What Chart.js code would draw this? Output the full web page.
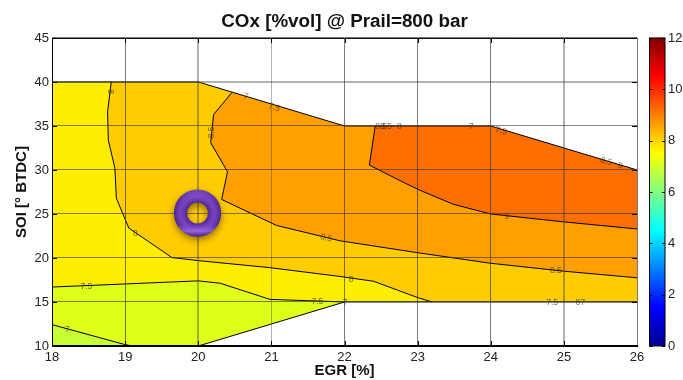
<!DOCTYPE html>
<html>
<head>
<meta charset="utf-8">
<style>
  html, body { margin: 0; padding: 0; background: #fff; }
  canvas { display: block; }
</style>
<script src="https://cdn.jsdelivr.net/npm/chart.js@4"></script>
</head>
<body>
<canvas id="chart" width="683" height="380"></canvas>
<script>
// axis ticks
const xTicks = [18, 19, 20, 21, 22, 23, 24, 25, 26];
const yTicks = [10, 15, 20, 25, 30, 35, 40, 45];
const barTicks = [0, 2, 4, 6, 8, 10, 12];

// contour lines, as [EGR, SOI]
const contour7 = [[18, 12.43], [18.98, 10.2], [19.1, 10]];
const contour75 = [[18, 16.7], [19, 17.05], [20, 17.4], [20.3, 17.13], [20.98, 15.3], [22, 15]];
const contour8 = [[18.81, 40], [18.76, 36.6], [18.77, 33.4], [18.86, 30.2], [18.88, 26.8], [19.05, 23.4], [19.64, 20.05], [20, 19.7], [20.98, 18.9], [21.94, 17.9], [22.4, 17.35], [23, 15.5], [23.2, 15]];
const contour85 = [[20.46, 38.8], [20.21, 36.3], [20.17, 33.1], [20.4, 29.8], [20.32, 26.65], [21.07, 23.7], [21.94, 21.95], [23, 20.6], [24, 19.4], [25, 18.5], [26, 17.75]];
const contour9 = [[22.42, 35], [22.34, 30.55], [22.83, 28.5], [23.03, 27.7], [23.49, 26.1], [24, 25], [25, 24.1], [26, 23.3]];

// outline of the measured area
const outline = [[18, 40], [20, 40], [22, 35], [24, 35], [26, 30], [26, 15], [22, 15], [20, 10], [18, 10]];
const topEdge = [[18, 40], [20, 40], [22, 35], [24, 35], [26, 30]];
const lowEdge = [[26, 15], [22, 15], [20, 10]];

// inline contour labels: text, EGR, SOI, rotation in degrees
const labelText = ["8", "8.5", "7", "7.5", "8.5", "8.5", "8", "7", "7.5", "8.5", "9", "8", "7.5", "7", "8.5", "7.5", "9", "8.5", "8", "7", "7.5", "8", "7"];
const labelX = [18.8, 20.18, 20.65, 21.04, 22.5, 22.57, 22.75, 23.73, 24.14, 25.58, 25.77, 19.14, 18.47, 18.21, 21.75, 21.63, 24.22, 24.89, 22.09, 22.01, 24.84, 25.19, 25.26];
const labelY = [38.9, 34.27, 38.37, 37.12, 34.95, 34.95, 34.95, 34.95, 34.45, 30.97, 30.47, 22.74, 16.75, 11.9, 22.28, 15.08, 24.75, 18.57, 17.58, 14.93, 14.93, 14.93, 14.93];
const labelRot = [90, -90, 15, 15, 0, 0, 0, 0, 15, 15, 15, 0, 0, 0, 15, 0, 0, 0, 0, 0, 0, 0, 0];

// colorbar
const jetValues = [0, 1.5, 4.5, 7.5, 10.5, 12];
const jetColors = ["#00008f", "#0000ff", "#00ffff", "#ffff00", "#ff0000", "#800000"];

const ringPos = [19.99, 25.1];

const toPoints = (list) => list.map((p) => ({ x: p[0], y: p[1] }));

function area(points, color) {
  return {
    data: toPoints(points),
    areaColor: color,
    showLine: false,
    pointRadius: 0,
    pointHoverRadius: 0,
  };
}

function line(points) {
  return {
    data: toPoints(points),
    showLine: true,
    borderColor: "#000",
    borderWidth: 1,
    pointRadius: 0,
    pointHoverRadius: 0,
    fill: false,
  };
}

const datasets = [
  area(outline, "#ffee00"),
  area(contour8.concat([[26, 15], [26, 30], [24, 35], [22, 35], [20, 40]]), "#ffcc00"),
  area(contour85.concat([[26, 30], [24, 35], [22, 35]]), "#ff9f00"),
  area(contour9.concat([[26, 30], [24, 35]]), "#ff6f00"),
  area(contour75.concat([[20, 10], [18, 10]]), "#dfff1a"),
  area(contour7.concat([[18, 10]]), "#c8ff33"),
  line(contour7),
  line(contour75),
  line(contour8),
  line(contour85),
  line(contour9),
  line(topEdge),
  line(lowEdge),
  { data: toPoints([ringPos]), isRing: true, pointRadius: 0, pointHoverRadius: 0, showLine: false },
];

// fills the closed contour bands, in order, under the lines
const bandFill = {
  id: "bandFill",
  beforeDatasetsDraw(chart) {
    const ctx = chart.ctx;
    const a = chart.chartArea;
    ctx.save();
    ctx.beginPath();
    ctx.rect(a.left, a.top, a.right - a.left, a.bottom - a.top);
    ctx.clip();
    chart.data.datasets.forEach((ds, i) => {
      if (!ds.areaColor) return;
      const pts = chart.getDatasetMeta(i).data;
      ctx.beginPath();
      pts.forEach((p, n) => (n ? ctx.lineTo(p.x, p.y) : ctx.moveTo(p.x, p.y)));
      ctx.closePath();
      ctx.fillStyle = ds.areaColor;
      ctx.fill();
    });
    ctx.restore();
  },
};

function drawBox(chart) {
  const ctx = chart.ctx;
  const a = chart.chartArea;
  ctx.strokeStyle = "#000";
  ctx.lineWidth = 1;
  ctx.beginPath();
  // inward ticks on the top and right sides
  chart.scales.x.ticks.forEach((t) => {
    const px = Math.round(chart.scales.x.getPixelForValue(t.value)) + 0.5;
    ctx.moveTo(px, a.top);
    ctx.lineTo(px, a.top + 5);
    ctx.moveTo(px, a.bottom);
    ctx.lineTo(px, a.bottom - 5);
  });
  chart.scales.y.ticks.forEach((t) => {
    const py = Math.round(chart.scales.y.getPixelForValue(t.value)) + 0.5;
    ctx.moveTo(a.left, py);
    ctx.lineTo(a.left + 5, py);
    ctx.moveTo(a.right, py);
    ctx.lineTo(a.right - 5, py);
  });
  ctx.moveTo(a.left + 0.5, a.bottom);
  ctx.lineTo(a.left + 0.5, a.top + 0.5);
  ctx.lineTo(a.right, a.top + 0.5);
  ctx.stroke();
  ctx.strokeStyle = "#777";
  ctx.beginPath();
  ctx.moveTo(a.right + 0.5, a.top);
  ctx.lineTo(a.right + 0.5, a.bottom);
  ctx.stroke();
  ctx.strokeStyle = "#000";
  ctx.lineWidth = 2;
  ctx.beginPath();
  ctx.moveTo(a.left, a.bottom);
  ctx.lineTo(a.right + 1, a.bottom);
  ctx.stroke();
}

function drawLabels(chart) {
  const ctx = chart.ctx;
  const sx = chart.scales.x;
  const sy = chart.scales.y;
  ctx.font = "8.5px 'Liberation Sans'";
  ctx.fillStyle = "rgba(30,30,30,0.65)";
  ctx.textAlign = "center";
  ctx.textBaseline = "middle";
  labelText.forEach((txt, i) => {
    ctx.save();
    ctx.translate(sx.getPixelForValue(labelX[i]), sy.getPixelForValue(labelY[i]));
    ctx.rotate((labelRot[i] * Math.PI) / 180);
    ctx.fillText(txt, 0, 0);
    ctx.restore();
  });
}

function drawRing(chart) {
  const i = chart.data.datasets.findIndex((d) => d.isRing);
  const p = chart.getDatasetMeta(i).data[0];
  const ctx = chart.ctx;
  const outer = 23.7;
  const inner = 10.5;
  ctx.save();
  ctx.beginPath();
  ctx.arc(p.x, p.y, outer, 0, Math.PI * 2);
  ctx.arc(p.x, p.y, inner, 0, Math.PI * 2, true);
  ctx.shadowColor = "rgba(70,45,0,0.6)";
  ctx.shadowBlur = 7;
  ctx.shadowOffsetY = 3;
  const body = ctx.createRadialGradient(p.x, p.y, inner, p.x, p.y, outer);
  body.addColorStop(0, "#4f2a96");
  body.addColorStop(0.45, "#7a42c0");
  body.addColorStop(0.65, "#6f3cb4");
  body.addColorStop(1, "#4c2a8c");
  ctx.fillStyle = body;
  ctx.fill("evenodd");
  ctx.shadowColor = "transparent";
  // highlights on the upper and lower part of the tube
  const shine = ctx.createLinearGradient(p.x, p.y - outer, p.x, p.y + outer);
  shine.addColorStop(0, "rgba(170,120,240,0.4)");
  shine.addColorStop(0.3, "rgba(120,80,200,0)");
  shine.addColorStop(0.72, "rgba(120,80,200,0)");
  shine.addColorStop(0.88, "rgba(180,125,245,0.6)");
  shine.addColorStop(1, "rgba(60,30,120,0.35)");
  ctx.fillStyle = shine;
  ctx.fill("evenodd");
  ctx.restore();
}

function drawColorbar(chart) {
  const ctx = chart.ctx;
  const s = chart.scales.bar;
  const left = s.left + 12.5;
  const right = s.left + 28;
  const top = s.getPixelForValue(12);
  const bottom = s.getPixelForValue(0);
  const grad = ctx.createLinearGradient(0, bottom, 0, top);
  jetValues.forEach((v, i) => grad.addColorStop(v / 12, jetColors[i]));
  ctx.fillStyle = grad;
  ctx.fillRect(left, top, right - left, bottom - top);
  ctx.strokeStyle = "#000";
  ctx.lineWidth = 1;
  ctx.strokeRect(left, top, right - left, bottom - top);
  ctx.beginPath();
  barTicks.forEach((v) => {
    const py = Math.round(s.getPixelForValue(v)) + 0.5;
    ctx.moveTo(left, py);
    ctx.lineTo(left + 3, py);
    ctx.moveTo(right, py);
    ctx.lineTo(right - 3, py);
  });
  ctx.stroke();
}

const overlays = {
  id: "overlays",
  afterDraw(chart) {
    drawBox(chart);
    drawLabels(chart);
    drawColorbar(chart);
    drawRing(chart);
  },
};

const tickFont = { family: "'Liberation Sans'", size: 13 };
const titleFont = { family: "'Liberation Sans'", size: 15, weight: "bold" };

new Chart(document.getElementById("chart"), {
  type: "scatter",
  data: { datasets: datasets },
  plugins: [bandFill, overlays],
  options: {
    responsive: false,
    animation: false,
    layout: { padding: 0 },
    plugins: {
      legend: { display: false },
      tooltip: { enabled: false },
      title: {
        display: true,
        text: "COx [%vol] @ Prail=800 bar",
        fullSize: false,
        color: "#111",
        font: { family: "'Liberation Sans'", size: 18.8, weight: "bold", lineHeight: 1.2 },
        padding: { top: 11, bottom: 4.4 },
      },
    },
    scales: {
      x: {
        type: "linear",
        min: 18,
        max: 26,
        afterBuildTicks: (s) => { s.ticks = xTicks.map((v) => ({ value: v })); },
        afterFit: (s) => { s.height = 34; },
        ticks: { color: "#222", font: tickFont, padding: 4, maxRotation: 0 },
        border: { display: false },
        grid: {
          z: 1,
          drawTicks: false,
          color: (c) => ([20, 21, 25].includes(c.tick.value) ? "rgba(60,60,60,0.4)" : "rgba(50,50,50,0.65)"),
          lineWidth: (c) => ([20, 25].includes(c.tick.value) ? 2 : 1),
        },
        title: { display: true, text: "EGR [%]", color: "#111", font: titleFont, padding: 0 },
      },
      y: {
        type: "linear",
        min: 10,
        max: 45,
        afterBuildTicks: (s) => { s.ticks = yTicks.map((v) => ({ value: v })); },
        afterFit: (s) => { s.width = 52; },
        ticks: { color: "#222", font: tickFont, padding: 3 },
        border: { display: false },
        grid: {
          z: 1,
          drawTicks: false,
          color: (c) => (c.tick.value === 40 ? "rgba(60,60,60,0.4)" : "rgba(50,50,50,0.6)"),
          lineWidth: (c) => (c.tick.value === 40 ? 2 : 1),
        },
        title: { display: true, text: "SOI [° BTDC]", color: "#111", font: titleFont, padding: { top: 13, bottom: 0 } },
      },
      bar: {
        type: "linear",
        position: "right",
        min: 0,
        max: 12,
        afterBuildTicks: (s) => { s.ticks = barTicks.map((v) => ({ value: v })); },
        afterFit: (s) => { s.width = 46; },
        ticks: { color: "#222", font: tickFont, padding: 2 },
        border: { display: false },
        // transparent long tick only pushes the labels past the color strip
        grid: { drawOnChartArea: false, drawTicks: true, tickLength: 29, color: "transparent" },
      },
    },
  },
});
</script>
</body>
</html>
